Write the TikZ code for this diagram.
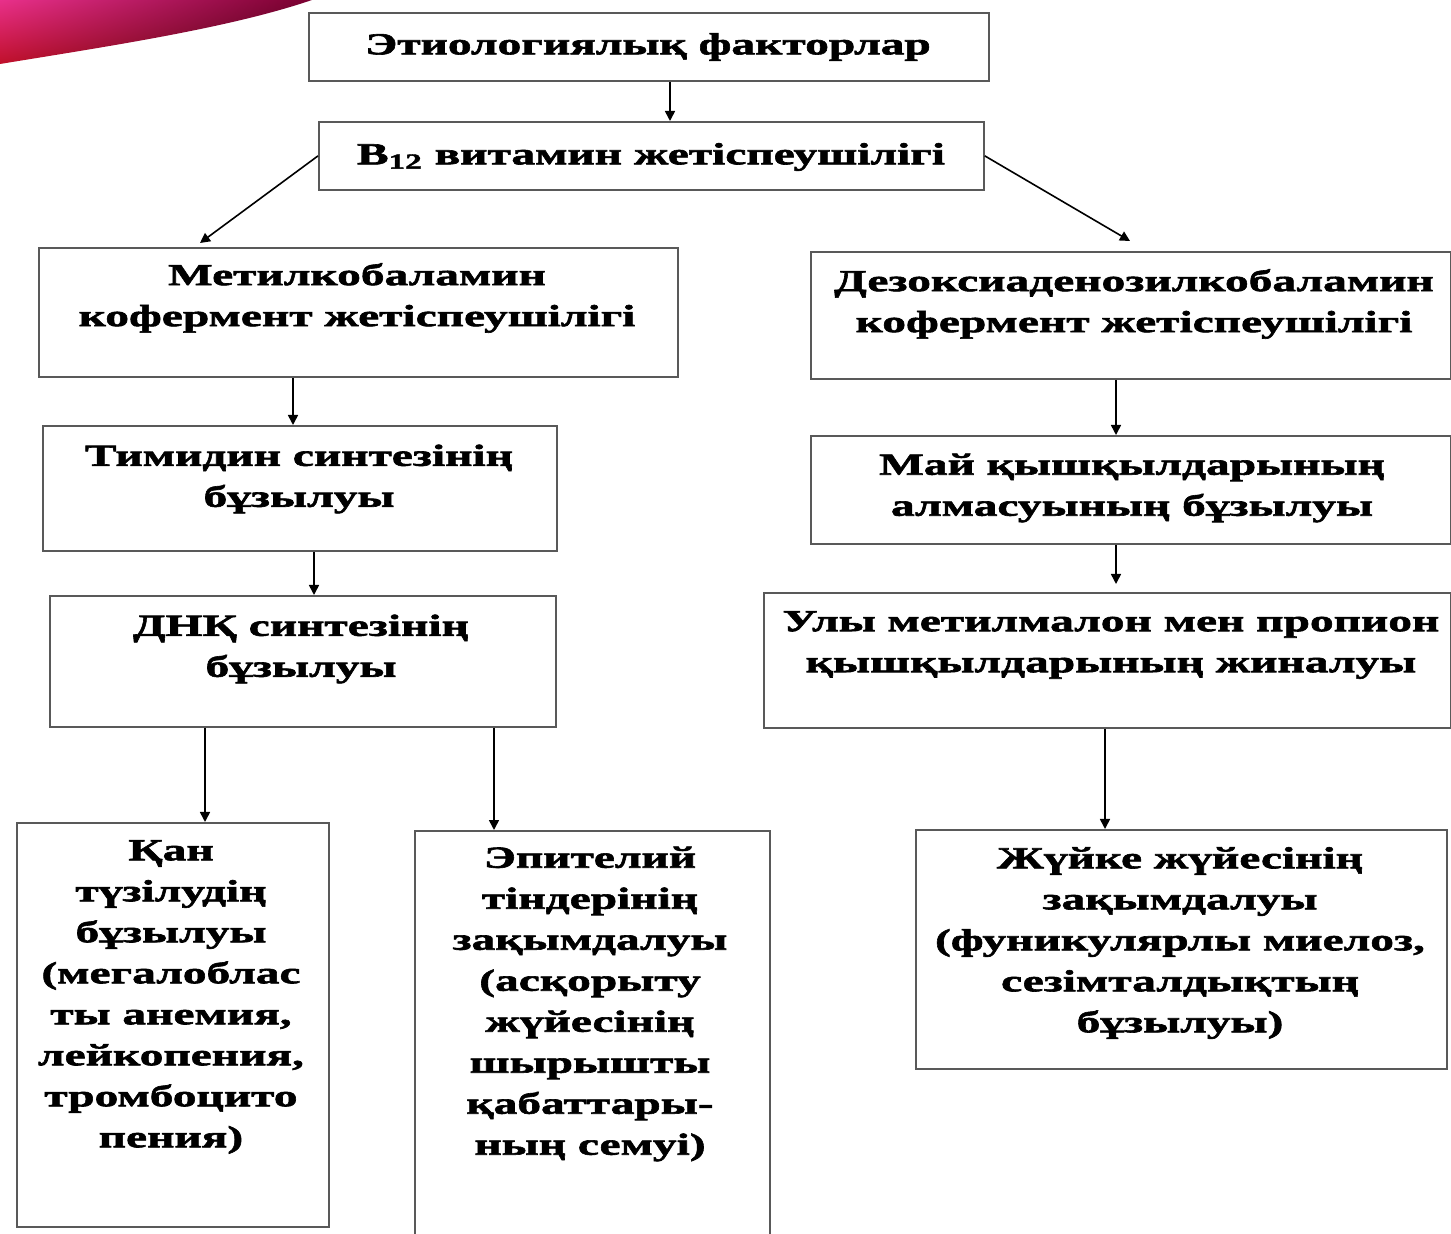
\documentclass[tikz,border=0pt]{standalone}
\usepackage{fontspec}
\setmainfont{Liberation Serif}
\newfontfamily\kzfont[FakeStretch=1.55,FakeBold=2]{Liberation Serif}
\usetikzlibrary{arrows.meta,calc,shadings}
\definecolor{swpink}{HTML}{E8308A}
\definecolor{swmaroon}{HTML}{7A0030}
\definecolor{swred}{HTML}{C0102A}
\definecolor{swdark}{HTML}{3A0010}
\tikzset{
  box/.style={draw=black!65, line width=0.9pt, inner sep=0pt, anchor=north west, fill=white},
  txt/.style={font={\kzfont\bfseries\fontsize{15.3pt}{20.5pt}\selectfont}, align=center, inner sep=0pt},
  arr/.style={-{Triangle[length=5pt,width=5pt]}, line width=0.8pt, black}
}
\newcommand\mkbox[5]{\node[box, minimum width={(#4-#2)*0.5pt}, minimum height={(#5-#3)*0.5pt}] (#1) at (#2,#3) {};}
\begin{document}
\begin{tikzpicture}[x=0.5pt, y=-0.5pt]
\useasboundingbox (0,0) rectangle (1451,1234);
% decorative swoosh
\shade[upper left=swpink, upper right=swmaroon, lower left=swred, lower right=swdark] (0,0) -- (312,0) .. controls (230,28) and (110,46) .. (0,64) -- cycle;
% boxes
\mkbox{f}{308}{12}{988}{80}
\mkbox{b}{318}{121}{983}{189}
\mkbox{m}{38}{247}{677}{376}
\mkbox{d}{810}{251}{1450}{378}
\mkbox{t}{42}{425}{556}{550}
\mkbox{n}{49}{595}{555}{726}
\mkbox{y}{810}{435}{1450}{543}
\mkbox{u}{763}{592}{1450}{727}
\mkbox{q}{16}{822}{328}{1226}
\mkbox{e}{414}{830}{769}{1245}
\mkbox{j}{915}{829}{1446}{1068}
% texts
\node[txt] (tf) at (648,47) {Этиологиялық факторлар};
\node[txt] (tb) at (651,157) {B\textsubscript{12} витамин жетіспеушілігі};
\node[txt] (tm) at (357,298) {Метилкобаламин\\кофермент жетіспеушілігі};
\node[txt] (td) at (1134,304) {Дезоксиаденозилкобаламин\\кофермент жетіспеушілігі};
\node[txt] (tt) at (299,479) {Тимидин синтезінің\\бұзылуы};
\node[txt] (tn) at (301,649) {ДНҚ синтезінің\\бұзылуы};
\node[txt] (ty) at (1132,488) {Май қышқылдарының\\алмасуының бұзылуы};
\node[txt] (tu) at (1111,645) {Улы метилмалон мен пропион\\қышқылдарының жиналуы};
\node[txt] (tq) at (171,997) {Қан\\түзілудің\\бұзылуы\\(мегалоблас\\ты анемия,\\лейкопения,\\тромбоцито\\пения)};
\node[txt] (te) at (590,1004) {Эпителий\\тіндерінің\\зақымдалуы\\(асқорыту\\жүйесінің\\шырышты\\қабаттары-\\ның семуі)};
\node[txt] (tj) at (1180,943) {Жүйке жүйесінің\\зақымдалуы\\(фуникулярлы миелоз,\\сезімталдықтың\\бұзылуы)};
% arrows
\draw[arr] (f.south -| 670,0) -- (b.north -| 670,0);
\draw[arr] (b.west) -- ($(m.north west)+(162,-4)$);
\draw[arr] (b.east) -- ($(d.north west)+(320,-10)$);
\draw[arr] (m.south -| 293,0) -- (t.north -| 293,0);
\draw[arr] (d.south -| 1116,0) -- (y.north -| 1116,0);
\draw[arr] (t.south -| 314,0) -- (n.north -| 314,0);
\draw[arr] (y.south -| 1116,0) -- ($(u.north -| 1116,0)+(0,-8)$);
\draw[arr] (n.south -| 205,0) -- (q.north -| 205,0);
\draw[arr] (n.south -| 494,0) -- (e.north -| 494,0);
\draw[arr] (u.south -| 1105,0) -- (j.north -| 1105,0);
\end{tikzpicture}
\end{document}
